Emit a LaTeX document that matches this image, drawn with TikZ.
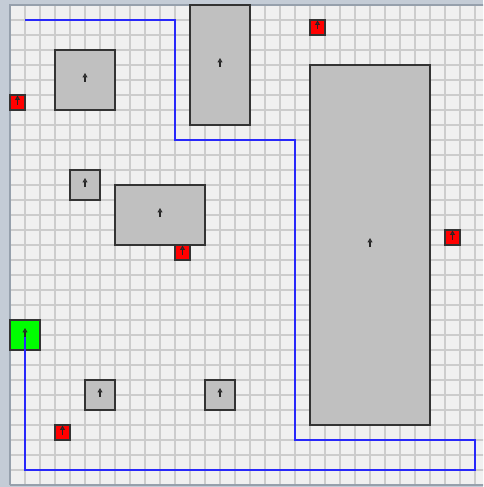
\documentclass[tikz,border=0pt]{standalone}
\usepackage{tikz}
\usetikzlibrary{arrows.meta}
\definecolor{panel}{RGB}{240,240,240}
\definecolor{frame}{RGB}{196,204,214}
\definecolor{rim}{RGB}{150,160,172}
\definecolor{obst}{RGB}{192,192,192}
\definecolor{pathblue}{RGB}{40,40,250}

\begin{document}
\begin{tikzpicture}[x=7.5pt,y=-7.5pt,line width=0.5pt,
  gridline/.style={line width=1pt,gray!40},
  cellbox/.style 2 args={rectangle,draw=black!80,line width=0.8pt,inner sep=0pt,outer sep=0pt,
    minimum width=#1*7.5pt,minimum height=#2*7.5pt},
  wall/.style={cellbox={#1},fill=obst},
  hit/.style={cellbox={1}{1},fill=red},
  goalbox/.style={cellbox={2}{2},fill=green},
  heading/.style={black!85,line width=0.6pt,-{Triangle[open,length=2.2pt,width=2.4pt]}},
  track/.style={pathblue,line width=0.6pt}]
  % marco y fondo
  \useasboundingbox[fill=frame] (-0.6667,-0.3333) rectangle (31.5333,32.1333);
  \clip (-0.6667,-0.3333) rectangle (31.5333,32.1333);
  \fill[panel] (0,0) rectangle (32,32);
  \foreach \i in {1,...,31} {
    \draw[gridline] (\i,0) -- (\i,32);
    \draw[gridline] (0,\i) -- (32,\i);
  }
  \draw[rim,line width=1pt] (0,32) -- (0,0) -- (32,0);
  \draw[rim,line width=1pt] (0,32) -- (32,32);
  % obstaculos grises
  \node[wall={4}{4}] (wa) at (5,5) {};
  \node[wall={4}{8}] (wb) at (14,4) {};
  \node[wall={8}{24}] (wc) at (24,16) {};
  \node[wall={2}{2}] (wd) at (5,12) {};
  \node[wall={6}{4}] (we) at (10,14) {};
  \node[wall={2}{2}] (wf) at (6,26) {};
  \node[wall={2}{2}] (wg) at (14,26) {};
  % celdas rojas
  \node[hit] (ra) at (0.5,6.5) {};
  \node[hit] (rb) at (20.5,1.5) {};
  \node[hit] (rc) at (11.5,16.5) {};
  \node[hit] (rd) at (29.5,15.5) {};
  \node[hit] (re) at (3.5,28.5) {};
  % meta
  \node[goalbox] (goal) at (1,22) {};
  % ruta
  \coordinate (start) at (1,1);
  \coordinate (p1) at (11,9);
  \coordinate (p2) at (19,29);
  \coordinate (p3) at (31,31);
  \draw[track] (start) -| (p1) -| (p2) -| (p3) -| (goal.center);
  % flechas de orientacion
  \foreach \n in {wa,wb,wc,wd,we,wf,wg,ra,rb,rc,rd,re,goal}
    \draw[heading] ([yshift=-1pt]\n.center) -- ([yshift=3.5pt]\n.center);
\end{tikzpicture}
\end{document}
